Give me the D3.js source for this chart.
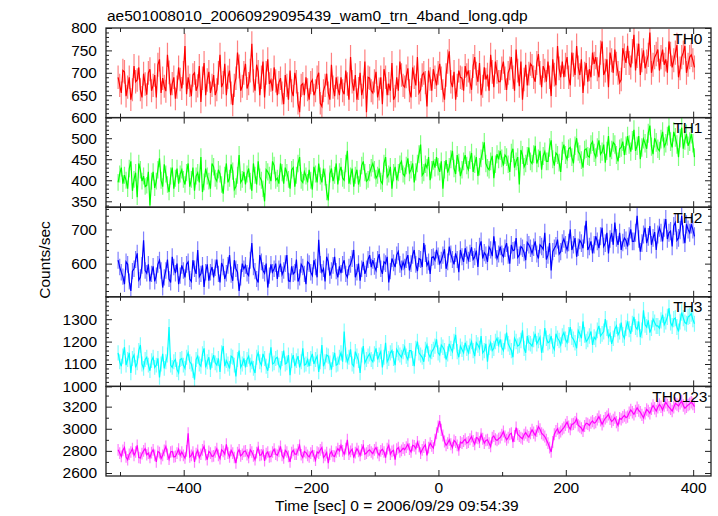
<!DOCTYPE html>
<html><head><meta charset="utf-8">
<script src="https://cdn.jsdelivr.net/npm/d3@7"></script>
<style>
body{margin:0;background:#fff}
svg{display:block}
text{font-family:"Liberation Sans",Arial,Helvetica,sans-serif;fill:#000}
</style>
</head><body>
<svg id="c" width="718" height="516"></svg>
<script>
const title = "ae501008010_20060929095439_wam0_trn_4band_long.qdp";
const xLabel = "Time [sec] 0 = 2006/09/29 09:54:39";
const yLabel = "Counts/sec";
const tStart = -503, binSize = 2.5;          // time of first bin, bin width (s)
const xTickLabels = [-400, -200, 0, 200, 400];
const xMinorTicks = [-500, -300, -100, 100, 300];
const bands = ["TH0", "TH1", "TH2", "TH3", "TH0123"];
const colors = ["#ff0000", "#00ff00", "#0000ff", "#00ffff", "#ff00ff"];

const th0 = [
690,672,655,705,702,648,668,690,640,662,715,680,684,712,662,645,698,675,651,700,
708,660,672,695,645,718,730,655,688,670,659,740,701,650,676,690,642,668,712,685,
665,700,760,652,690,672,648,695,700,660,671,715,635,688,722,650,684,702,655,672,
695,650,662,700,740,668,678,720,650,690,705,655,628,672,688,745,714,660,670,700,
720,665,676,705,765,682,660,718,702,650,690,725,645,700,730,675,684,660,712,682,
650,678,688,655,630,695,672,640,705,660,648,700,680,632,612,672,676,650,690,662,
640,678,684,650,660,690,700,632,625,660,672,698,655,640,718,668,648,690,666,650,
690,660,652,705,675,640,735,680,660,695,640,665,700,650,668,725,612,690,688,660,
655,682,702,645,664,690,630,708,690,650,676,660,722,640,648,690,660,725,695,672,
668,692,710,660,645,712,690,672,735,655,662,695,700,678,625,705,686,660,708,690,
672,700,720,688,660,640,695,725,748,680,668,702,640,672,705,690,688,660,715,695,
705,680,662,715,735,698,680,722,650,670,712,685,696,660,740,702,668,725,702,680,
680,710,725,688,662,700,710,735,690,660,752,705,670,725,640,685,718,672,698,720,
715,690,680,722,742,700,668,715,705,680,725,690,648,730,696,672,760,710,690,725,
690,718,735,690,672,745,718,695,760,712,695,730,655,698,722,680,708,690,745,720,
735,708,690,745,770,695,705,730,668,745,728,700,752,720,700,678,685,755,738,722,
760,722,712,748,785,705,738,765,695,728,750,710,725,740,790,700,718,735,742,752,
705,735,752,718,730,700,770,742,712,728,745,762,690,710,735,745,760,700,718,735,
740,728,712];

const th1 = [
395,415,430,392,412,400,380,428,445,375,402,418,360,440,425,398,410,385,388,420,
340,398,420,382,398,425,452,400,385,438,415,390,372,410,430,380,405,428,392,415,
425,402,390,418,440,385,402,430,375,410,418,395,455,372,396,428,410,398,380,440,
432,405,398,425,415,390,368,412,440,395,405,438,422,378,385,412,460,395,402,420,
390,415,428,398,375,440,412,390,445,408,400,380,350,425,420,412,398,445,435,400,
405,392,440,418,392,430,418,402,380,425,430,385,412,440,455,400,395,420,410,395,
425,400,378,432,415,395,440,410,395,428,408,372,352,415,428,398,412,440,390,420,
432,405,400,440,470,392,410,428,385,412,425,390,405,435,445,418,398,402,418,430,
440,425,405,412,428,398,392,440,455,408,415,432,380,418,432,400,418,438,445,415,
410,435,452,418,425,440,395,420,440,462,485,412,418,438,430,455,400,425,446,430,
455,432,420,445,380,425,448,418,432,450,470,428,415,460,442,410,425,445,460,435,
425,448,465,420,438,455,410,432,452,470,490,440,430,425,445,458,405,438,462,450,
470,452,435,460,455,438,420,465,475,430,445,455,390,472,460,432,440,458,478,445,
440,462,482,440,452,470,425,458,468,445,445,478,495,450,435,465,460,442,420,470,
485,460,450,475,478,455,440,482,500,468,462,448,430,472,475,458,455,485,492,465,
455,478,495,462,468,485,442,470,505,455,472,490,485,460,445,475,478,492,460,482,
505,485,468,495,520,470,482,505,450,478,498,488,475,512,530,480,462,500,490,475,
470,498,515,480,488,505,530,492,478,515,502,485,455,500,525,475,495,510,482,492,
510,488,455];

const th2 = [
610,590,575,562,540,605,598,548,520,578,585,612,630,552,560,595,668,580,572,598,
548,570,592,548,565,598,610,580,530,560,580,612,555,545,620,590,572,600,540,565,
595,580,560,598,605,555,548,610,585,570,640,562,570,595,532,575,598,550,575,590,
560,588,612,570,545,602,590,555,572,595,625,568,550,610,585,575,520,560,600,585,
595,572,565,610,660,590,578,555,545,625,605,580,572,600,530,565,598,575,585,600,
555,585,600,568,580,600,625,550,548,592,570,575,612,548,560,598,590,570,540,605,
600,575,565,610,590,560,670,598,575,585,548,620,605,565,580,595,620,578,560,592,
572,598,610,570,560,590,598,615,640,560,575,600,550,585,605,570,585,612,625,590,
610,592,580,612,628,585,570,605,600,620,545,578,615,602,590,625,635,598,585,605,
590,612,625,580,600,625,640,598,578,615,612,590,660,630,595,605,570,618,620,610,
640,622,600,610,625,642,585,605,650,628,612,598,630,612,575,640,620,605,645,625,
610,630,648,612,620,638,590,650,665,615,632,625,605,648,640,622,680,640,615,628,
650,628,620,645,660,625,600,655,638,640,675,618,625,650,645,632,610,662,655,645,
630,648,665,628,615,655,650,642,690,612,625,660,580,635,645,652,670,628,635,660,
672,655,640,662,700,640,655,675,620,648,668,660,645,685,725,640,650,665,630,655,
680,665,645,680,705,650,660,690,630,672,690,655,720,675,655,690,640,662,675,668,
650,680,700,665,665,690,740,672,635,660,685,705,660,678,710,655,675,692,640,685,
705,690,665,705,730,672,690,695,650,710,720,668,675,698,740,685,660,715,700,690,
715,700,680];

const th3 = [
1150,1110,1090,1135,1175,1095,1120,1150,1060,1125,1140,1085,1105,1160,1185,1100,1080,1120,1130,1095,
1070,1115,1130,1085,1095,1125,1040,1100,1145,1080,1110,1140,1265,1095,1085,1110,1120,1075,1060,1120,
1125,1095,1080,1130,1150,1110,1100,1070,1030,1120,1135,1100,1090,1145,1170,1085,1110,1130,1075,1115,
1140,1105,1095,1125,1065,1150,1180,1090,1115,1100,1080,1135,1130,1095,1045,1120,1160,1085,1100,1125,
1085,1120,1135,1095,1110,1080,1060,1130,1150,1110,1095,1145,1125,1090,1070,1115,1175,1100,1105,1125,
1130,1095,1080,1125,1160,1100,1105,1140,1050,1115,1140,1090,1115,1135,1085,1110,1170,1095,1100,1120,
1090,1125,1145,1100,1120,1135,1065,1110,1185,1090,1110,1140,1135,1105,1075,1120,1150,1095,1100,1130,
1150,1110,1245,1140,1110,1130,1165,1100,1090,1155,1135,1115,1060,1140,1180,1105,1120,1135,1145,1120,
1110,1145,1170,1120,1140,1155,1085,1130,1195,1110,1125,1150,1160,1125,1095,1165,1150,1140,1130,1155,
1175,1135,1120,1160,1160,1125,1090,1170,1200,1150,1140,1130,1110,1165,1185,1145,1130,1155,1165,1180,
1210,1150,1140,1185,1175,1160,1120,1145,1190,1170,1155,1200,1230,1155,1130,1180,1165,1150,1195,1170,
1150,1180,1200,1160,1135,1195,1185,1170,1225,1150,1160,1190,1110,1175,1195,1160,1170,1200,1215,1185,
1210,1175,1160,1200,1240,1190,1175,1160,1130,1215,1200,1180,1185,1205,1250,1170,1150,1225,1195,1190,
1180,1210,1235,1190,1205,1220,1150,1185,1260,1215,1195,1200,1225,1180,1165,1235,1215,1205,1185,1225,
1240,1210,1195,1230,1265,1220,1210,1195,1170,1250,1235,1215,1290,1230,1200,1210,1225,1245,1185,1220,
1210,1250,1270,1225,1235,1245,1300,1260,1220,1235,1190,1215,1255,1270,1230,1245,1285,1230,1215,1260,
1290,1255,1235,1280,1310,1265,1255,1290,1220,1250,1340,1275,1265,1295,1240,1260,1300,1285,1270,1270,
1260,1295,1320,1275,1290,1310,1350,1285,1270,1300,1305,1265,1245,1290,1330,1305,1285,1280,1310,1315,
1325,1300,1280];

const th0123 = [
2810,2780,2750,2805,2830,2745,2720,2770,2790,2820,2760,2790,2850,2740,2735,2775,2800,2820,2765,2780,
2740,2785,2810,2760,2700,2795,2785,2730,2760,2805,2840,2770,2725,2790,2795,2745,2750,2780,2815,2760,
2790,2760,2735,2800,2960,2745,2760,2790,2700,2775,2805,2740,2770,2810,2840,2765,2720,2795,2780,2750,
2755,2790,2820,2760,2730,2810,2795,2770,2860,2780,2745,2805,2780,2740,2690,2785,2810,2755,2770,2795,
2800,2765,2740,2810,2790,2755,2720,2785,2830,2760,2765,2800,2710,2775,2790,2745,2750,2790,2815,2770,
2760,2795,2840,2760,2735,2805,2790,2750,2700,2785,2805,2770,2770,2810,2850,2765,2740,2795,2785,2760,
2745,2780,2800,2755,2715,2790,2780,2810,2830,2740,2760,2785,2690,2770,2795,2755,2750,2790,2820,2800,
2850,2800,2770,2820,2900,2770,2795,2815,2740,2785,2820,2795,2760,2810,2845,2770,2780,2800,2810,2790,
2775,2810,2830,2785,2760,2800,2815,2790,2740,2820,2850,2770,2795,2805,2720,2815,2830,2790,2805,2825,
2810,2835,2860,2815,2790,2850,2845,2820,2880,2840,2780,2810,2835,2855,2760,2830,2870,2845,2825,2900,
2960,3020,3070,2990,2940,2885,2850,2870,2900,2860,2830,2895,2880,2850,2810,2880,2870,2890,2905,2870,
2880,2905,2930,2890,2860,2920,2915,2880,2950,2910,2870,2895,2900,2870,2840,2920,2935,2905,2895,2910,
2920,2945,2975,2930,2900,2920,2950,2960,2880,2935,3010,2950,2935,2920,2910,2945,2965,2940,2925,2960,
2990,2965,2940,2980,3020,2995,2960,2945,2930,2900,2870,2830,2790,2880,2950,2980,3000,2960,2975,2995,
3010,3035,3060,3020,2995,3040,3045,3060,3090,3030,3020,3005,2980,3025,3050,3045,3030,3055,3070,3050,
3060,3085,3110,3075,3040,3070,3095,3110,3130,3090,3065,3080,3100,3060,3030,3095,3085,3105,3120,3100,
3110,3145,3170,3150,3130,3160,3190,3165,3150,3125,3100,3140,3175,3160,3140,3180,3210,3185,3160,3195,
3220,3200,3170,3210,3240,3215,3195,3180,3160,3195,3230,3220,3205,3230,3250,3210,3185,3200,3215,3225,
3240,3225,3200];

const series = [th0, th1, th2, th3, th0123];
const yDomains = [[600, 800], [336, 549], [503, 765], [1000, 1400], [2573, 3383]];
const yTickLabels = [[600, 650, 700, 750, 800], [350, 400, 450, 500], [600, 700], [1000, 1100, 1200, 1300], [2600, 2800, 3000, 3200]];
const yMinorStep = [10, 10, 20, 20, 100];
const xDomain = [-522, 428];

const svg = d3.select("#c");
const L = 106, R = 711, T = 28, B = 476;
const H = (B - T) / series.length;
const x = d3.scaleLinear().domain(xDomain).range([L, R]);
const FS = "15.5px";

svg.append("text").attr("x", 107).attr("y", 21).style("font-size", FS).text(title);

series.forEach((vals, k) => {
  const top = T + k * H, bot = top + H;
  const y = d3.scaleLinear().domain(yDomains[k]).range([bot, top]);
  const g = svg.append("g");
  const cid = "clip" + k;
  g.append("clipPath").attr("id", cid).append("rect")
    .attr("x", L).attr("y", top).attr("width", R - L).attr("height", H);
  const gc = g.append("g").attr("clip-path", `url(#${cid})`);
  const data = vals.map((v, i) => ({ t: tStart + i * binSize, v, e: Math.sqrt(v) }));
  gc.selectAll("line").data(data).join("line")
    .attr("x1", d => x(d.t)).attr("x2", d => x(d.t))
    .attr("y1", d => y(d.v - d.e)).attr("y2", d => y(d.v + d.e))
    .attr("stroke", colors[k]).attr("stroke-opacity", 0.5).attr("stroke-width", 1.2);
  gc.append("path").datum(data)
    .attr("d", d3.line().x(d => x(d.t)).y(d => y(d.v)))
    .attr("fill", "none").attr("stroke", colors[k]).attr("stroke-width", 1.2);

  const [lo, hi] = yDomains[k];
  const st = yMinorStep[k];
  const minors = d3.range(Math.ceil(lo / st) * st, hi + 0.001, st).filter(v => !yTickLabels[k].includes(v));
  const style = sel => { sel.select(".domain").remove(); sel.selectAll("line").attr("stroke", "#222").attr("stroke-width", 1); sel.selectAll("text").style("font-size", FS).attr("fill", "#000"); };
  g.append("g").attr("transform", `translate(${L},0)`)
    .call(d3.axisLeft(y).tickValues(yTickLabels[k]).tickSizeInner(-6).tickSizeOuter(0).tickPadding(9).tickFormat(d3.format("d"))).call(style);
  g.append("g").attr("transform", `translate(${L},0)`)
    .call(d3.axisLeft(y).tickValues(minors).tickSizeInner(-3).tickSizeOuter(0).tickFormat("")).call(style);
  g.append("g").attr("transform", `translate(${R},0)`)
    .call(d3.axisRight(y).tickValues(yTickLabels[k]).tickSizeInner(-6).tickSizeOuter(0).tickFormat("")).call(style);
  g.append("g").attr("transform", `translate(${R},0)`)
    .call(d3.axisRight(y).tickValues(minors).tickSizeInner(-3).tickSizeOuter(0).tickFormat("")).call(style);
  g.append("g").attr("transform", `translate(0,${top})`)
    .call(d3.axisTop(x).tickValues(xTickLabels).tickSizeInner(-6).tickSizeOuter(0).tickFormat("")).call(style);
  g.append("g").attr("transform", `translate(0,${top})`)
    .call(d3.axisTop(x).tickValues(xMinorTicks).tickSizeInner(-4).tickSizeOuter(0).tickFormat("")).call(style);
  const bAx = d3.axisBottom(x).tickValues(xTickLabels).tickSizeInner(-6).tickSizeOuter(0);
  if (k === series.length - 1) bAx.tickPadding(5.5); else bAx.tickFormat("");
  g.append("g").attr("transform", `translate(0,${bot})`).call(bAx).call(style);
  g.append("g").attr("transform", `translate(0,${bot})`)
    .call(d3.axisBottom(x).tickValues(xMinorTicks).tickSizeInner(-4).tickSizeOuter(0).tickFormat("")).call(style);
  g.append("rect").attr("x", L).attr("y", top).attr("width", R - L).attr("height", H)
    .attr("fill", "none").attr("stroke", "#222").attr("stroke-width", 1.3);
  g.append("text").attr("x", bands[k].length > 3 ? 707.5 : 702.5).attr("y", top + 15.5).attr("text-anchor", "end")
    .style("font-size", FS).text(bands[k]);
});

svg.append("text").attr("transform", "translate(50,260) rotate(-90)")
  .attr("text-anchor", "middle").style("font-size", FS).text(yLabel);
svg.append("text").attr("x", 275).attr("y", 511).style("font-size", FS).text(xLabel);
</script>
</body></html>
